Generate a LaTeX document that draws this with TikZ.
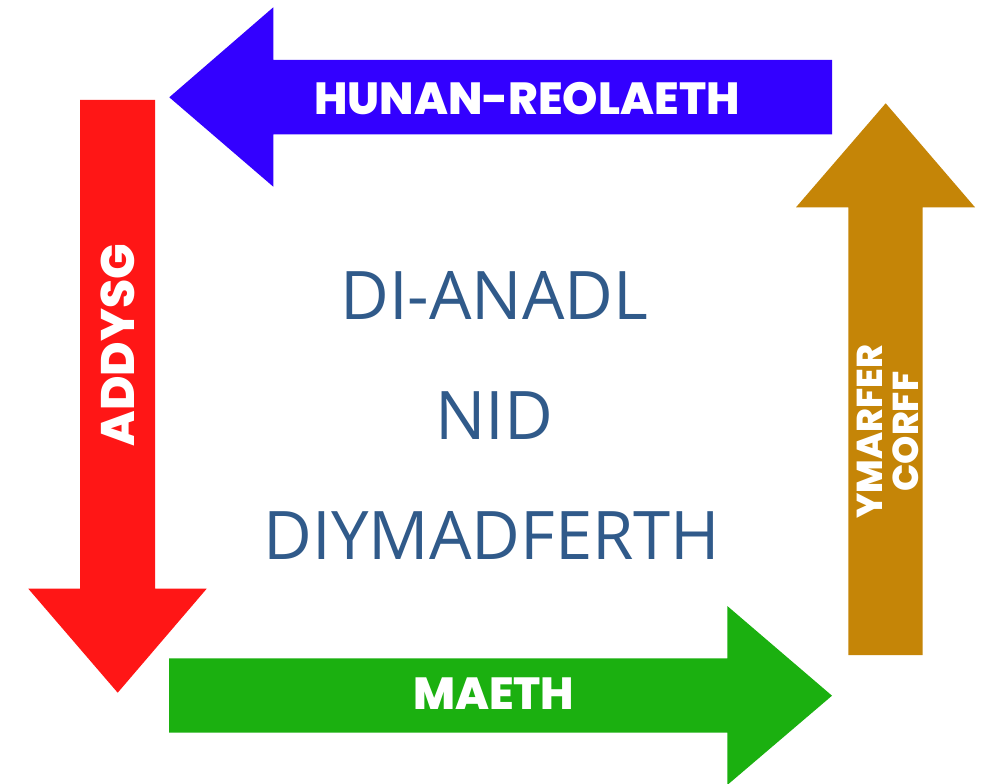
\documentclass[tikz,border=0pt]{standalone}
\usepackage{fontspec}
\newfontfamily\poppfont{Poppins}[BoldFont={Poppins ExtraBold}]
\newfontfamily\opensfont{Open Sans}
\definecolor{cblue}{HTML}{3300FF}
\definecolor{cred}{HTML}{FF1616}
\definecolor{cgreen}{HTML}{1BB010}
\definecolor{cgold}{HTML}{C58507}
\definecolor{ctext}{HTML}{305A8A}
\begin{document}
\begin{tikzpicture}[x=1pt,y=-1pt,
  arrowlbl/.style={text=white,font=\poppfont\bfseries\fontsize{45}{48}\selectfont,inner sep=0pt},
  centerlbl/.style={text=ctext,font=\opensfont\fontsize{67}{120}\selectfont,inner sep=0pt,align=center}]
\useasboundingbox (0,0) rectangle (986,784);
\fill[white] (0,0) rectangle (986,784);
% blue arrow (left)
\fill[cblue] (832,60) -- (273.3,60) -- (273.3,7.3) -- (169.3,97.3) -- (273.3,186.7) -- (273.3,134.3) -- (832,134.3) -- cycle;
% red arrow (down)
\fill[cred] (80,100) -- (155,100) -- (155,588.7) -- (206.7,588.7) -- (117.7,692.7) -- (28.3,588.7) -- (80,588.7) -- cycle;
% green arrow (right)
\fill[cgreen] (169,658.3) -- (727.3,658.3) -- (727.3,606) -- (832,695.7) -- (727.3,785) -- (727.3,732.7) -- (169,732.7) -- cycle;
% gold arrow (up)
\fill[cgold] (848.3,655) -- (848.3,207.3) -- (796,207.3) -- (885.7,103.3) -- (975,207.3) -- (922.7,207.3) -- (922.7,655) -- cycle;
% labels
\node[arrowlbl,anchor=base] (hunan) at (527,114) {HUNAN-REOLAETH};
\node[arrowlbl,anchor=base] (maeth) at (493.7,709.3) {MAETH};
\node[arrowlbl,anchor=base,rotate=90,font=\poppfont\bfseries\fontsize{47}{48}\selectfont] (addysg) at (134,345.3) {ADDYSG};
\node[arrowlbl,rotate=90,align=center,font=\poppfont\bfseries\fontsize{36}{36}\selectfont] (ymarfer) at (888,431.7) {YMARFER\\CORFF};
\node[centerlbl,anchor=base] (dianadl) at (494.3,319) {DI-ANADL};
\node[centerlbl,anchor=base] (nid) at (494.3,439) {NID};
\node[centerlbl,anchor=base] (diymad) at (492,559) {DIYMADFERTH};
\end{tikzpicture}
\end{document}
